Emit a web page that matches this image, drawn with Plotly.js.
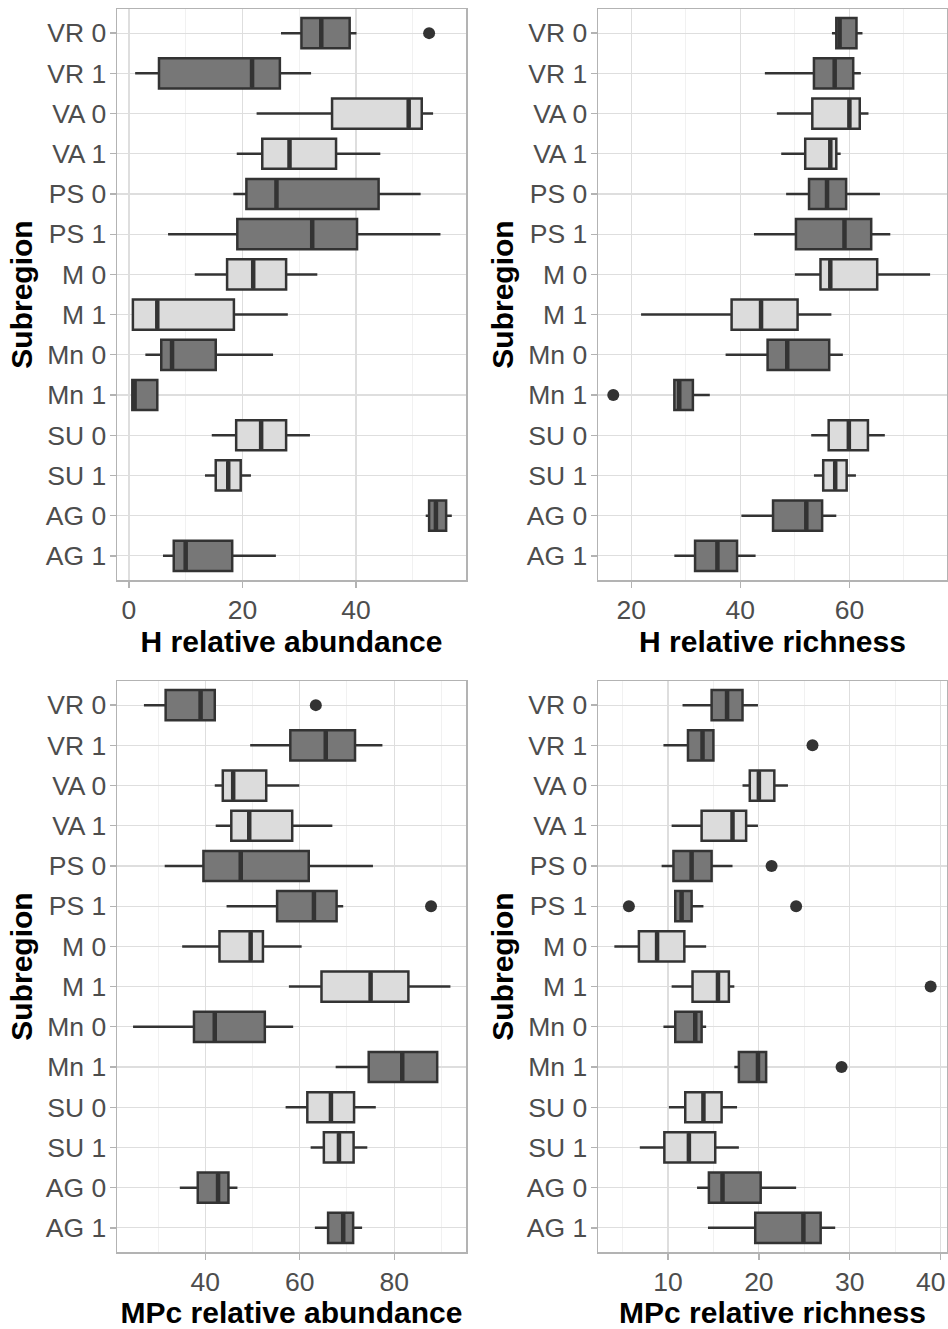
<!DOCTYPE html>
<html><head><meta charset="utf-8">
<script src="https://cdn.plot.ly/plotly-3.0.1.min.js"></script>
<style>html,body{margin:0;padding:0;background:#fff}#chart{width:948px;height:1329px}</style>
</head><body><div id="chart"></div>
<script>
const categories = ["VR 0","VR 1","VA 0","VA 1","PS 0","PS 1","M 0","M 1","Mn 0","Mn 1","SU 0","SU 1","AG 0","AG 1"];
const shade = ["dark","dark","light","light","dark","dark","light","light","dark","dark","light","light","dark","dark"];

// H relative abundance
const haLow  = [26.8, 1.1, 22.5, 19.0, 18.4, 6.9, 11.6, 0.7, 2.9, 0.6, 14.6, 13.4, 52.3, 6.0];
const haQ1   = [30.4, 5.3, 35.8, 23.5, 20.7, 19.1, 17.3, 0.7, 5.7, 0.6, 18.9, 15.3, 52.9, 7.9];
const haMed  = [33.9, 21.7, 49.3, 28.3, 26.0, 32.3, 21.9, 5.0, 7.6, 1.0, 23.3, 17.5, 54.1, 10.0];
const haQ3   = [38.9, 26.6, 51.6, 36.5, 44.0, 40.2, 27.7, 18.5, 15.3, 5.0, 27.7, 19.7, 55.9, 18.2];
const haHigh = [40.1, 32.1, 53.6, 44.3, 51.4, 54.9, 33.2, 28.0, 25.4, 5.0, 31.9, 21.5, 56.9, 25.9];
const haOutCat = ["VR 0"];
const haOutVal = [52.9];

// H relative richness
const hrLow  = [56.8, 44.5, 46.7, 47.5, 48.4, 42.5, 50.0, 21.8, 37.3, 27.9, 53.0, 53.5, 40.2, 27.9];
const hrQ1   = [57.6, 53.5, 53.2, 51.9, 52.6, 50.2, 54.7, 38.4, 45.0, 27.9, 56.2, 55.2, 46.0, 31.7];
const hrMed  = [58.2, 57.3, 60.0, 56.5, 55.9, 59.1, 56.5, 43.8, 48.6, 28.8, 59.9, 57.4, 52.1, 35.8];
const hrQ3   = [61.3, 60.7, 61.9, 57.6, 59.4, 64.0, 65.1, 50.5, 56.3, 31.3, 63.4, 59.5, 55.0, 39.4];
const hrHigh = [62.4, 62.1, 63.5, 58.4, 65.6, 67.5, 74.8, 56.7, 58.8, 34.4, 66.5, 61.2, 57.6, 42.8];
const hrOutCat = ["Mn 1"];
const hrOutVal = [16.7];

// MPc relative abundance
const maLow  = [27.0, 49.5, 42.0, 42.2, 31.4, 44.5, 35.1, 57.7, 24.7, 67.6, 57.0, 62.3, 34.6, 63.2];
const maQ1   = [31.6, 58.0, 43.7, 45.5, 39.6, 55.2, 43.0, 64.6, 37.6, 74.6, 61.6, 65.1, 38.4, 66.0];
const maMed  = [39.0, 65.5, 45.9, 49.3, 47.5, 63.0, 49.6, 75.0, 42.0, 81.7, 66.6, 68.3, 42.7, 69.2];
const maQ3   = [42.0, 71.7, 52.9, 58.4, 61.9, 67.8, 52.2, 83.0, 52.6, 89.1, 71.5, 71.4, 44.9, 71.3];
const maHigh = [42.0, 77.5, 59.9, 66.9, 75.5, 69.2, 60.4, 91.9, 58.6, 89.1, 76.1, 74.3, 46.8, 73.2];
const maOutCat = ["VR 0", "PS 1"];
const maOutVal = [63.4, 87.8];

// MPc relative richness
const mrLow  = [11.6, 9.5, 18.2, 10.4, 9.3, 10.8, 4.1, 10.4, 9.5, 17.3, 10.1, 6.9, 13.2, 14.4];
const mrQ1   = [14.8, 12.2, 19.0, 13.7, 10.6, 10.8, 6.8, 12.7, 10.8, 17.8, 11.9, 9.6, 14.5, 19.6];
const mrMed  = [16.5, 13.8, 20.0, 17.1, 12.6, 11.5, 8.8, 15.5, 13.0, 19.9, 13.9, 12.3, 16.0, 24.9];
const mrQ3   = [18.2, 15.0, 21.7, 18.6, 14.8, 12.6, 11.8, 16.7, 13.7, 20.8, 15.9, 15.2, 20.2, 26.8];
const mrHigh = [19.9, 15.0, 23.2, 19.9, 17.1, 13.9, 14.2, 17.3, 14.2, 20.8, 17.6, 17.8, 24.1, 28.4];
const mrOutCat = ["VR 1", "PS 0", "PS 1", "PS 1", "M 1", "Mn 1"];
const mrOutVal = [25.9, 21.4, 5.7, 24.1, 38.9, 29.1];

const panelTitles = ["H relative abundance", "H relative richness", "MPc relative abundance", "MPc relative richness"];
const yTitle = "Subregion";
const xTickVals = [[0, 20, 40], [20, 40, 60], [40, 60, 80], [10, 20, 30, 40]];

const panels = [
  {low: haLow, q1: haQ1, med: haMed, q3: haQ3, high: haHigh, outCat: haOutCat, outVal: haOutVal},
  {low: hrLow, q1: hrQ1, med: hrMed, q3: hrQ3, high: hrHigh, outCat: hrOutCat, outVal: hrOutVal},
  {low: maLow, q1: maQ1, med: maMed, q3: maQ3, high: maHigh, outCat: maOutCat, outVal: maOutVal},
  {low: mrLow, q1: mrQ1, med: mrMed, q3: mrQ3, high: mrHigh, outCat: mrOutCat, outVal: mrOutVal}
];

// axis / layout styling (not data)
const W = 948, H = 1329;
const axesCfg = [
  {x0: 117, x1: 466, y0: 9,   y1: 580,  range: [-2.1, 59.4], minor: 10},
  {x0: 598, x1: 947, y0: 9,   y1: 580,  range: [13.9, 77.9], minor: 10},
  {x0: 117, x1: 466, y0: 681, y1: 1252, range: [21.3, 95.2], minor: 10},
  {x0: 598, x1: 947, y0: 681, y1: 1252, range: [2.3, 40.7],  minor: 5}
];
const fillDark = "#777777", fillLight = "#dcdcdc", edge = "#333333";
const BOXW = 0.75;
const fontFam = "Liberation Sans, Arial, Helvetica, sans-serif";
const TICK_SIZE = 26.5, TITLE_SIZE = 30;
const tickFont = {size: TICK_SIZE, color: "#4d4d4d", family: fontFam};

const pos = categories.map((c, i) => i);
const traces = [];
const layout = {
  width: W, height: H,
  margin: {l: 0, r: 0, t: 0, b: 0},
  paper_bgcolor: "#ffffff", plot_bgcolor: "#ffffff",
  showlegend: false,
  font: {family: fontFam},
  hovermode: false
};

panels.forEach((p, k) => {
  const n = k + 1;
  const xa = "x" + (n === 1 ? "" : n), ya = "y" + (n === 1 ? "" : n);
  ["dark", "light"].forEach(s => {
    const idx = pos.filter(i => shade[i] === s);
    traces.push({
      type: "box", orientation: "h", xaxis: xa, yaxis: ya,
      y: idx.map(i => pos[i]),
      q1: idx.map(i => p.q1[i]), median: idx.map(i => p.med[i]), q3: idx.map(i => p.q3[i]),
      lowerfence: idx.map(i => p.low[i]), upperfence: idx.map(i => p.high[i]),
      width: BOXW, whiskerwidth: 0, boxpoints: false,
      fillcolor: s === "dark" ? fillDark : fillLight,
      line: {color: edge, width: 2.5},
      hoverinfo: "skip", showlegend: false
    });
  });
  // thick median bars (ggplot style), from the median arrays
  const mx = [], my = [];
  pos.forEach(i => { mx.push(p.med[i], p.med[i], null); my.push(i - BOXW / 2 + 0.02, i + BOXW / 2 - 0.02, null); });
  traces.push({type: "scatter", mode: "lines", xaxis: xa, yaxis: ya, x: mx, y: my,
    line: {color: edge, width: 4.5}, hoverinfo: "skip", showlegend: false, connectgaps: false});
  // outliers
  traces.push({type: "scatter", mode: "markers", xaxis: xa, yaxis: ya,
    x: p.outVal, y: p.outCat.map(c => categories.indexOf(c)),
    marker: {color: edge, size: 12}, hoverinfo: "skip", showlegend: false});

  const c = axesCfg[k];
  const lastPanel = k === 3;
  const vals = xTickVals[k];
  layout["xaxis" + (n === 1 ? "" : n)] = {
    domain: [c.x0 / W, c.x1 / W], anchor: ya, range: c.range,
    tickmode: "array", tickvals: vals,
    // last label of the right-hand panel is drawn by an overlay axis, nudged inside the figure
    ticktext: vals.map((v, j) => (lastPanel && j === vals.length - 1) ? "" : String(v)),
    ticks: "outside", ticklen: 6, tickwidth: 1.3, tickcolor: "#b3b3b3",
    tickfont: tickFont,
    showgrid: true, gridcolor: "#dedede", gridwidth: 1.2,
    minor: {dtick: c.minor, tick0: 0, showgrid: true, gridcolor: "#eeeeee", gridwidth: 0.8, ticks: ""},
    showline: true, mirror: true, linecolor: "#b3b3b3", linewidth: 1.5,
    zeroline: false, fixedrange: true,
    title: {text: panelTitles[k], standoff: 6, font: {size: TITLE_SIZE, color: "#000000", weight: 700, family: fontFam}}
  };
  layout["yaxis" + (n === 1 ? "" : n)] = {
    domain: [1 - c.y1 / H, 1 - c.y0 / H], anchor: xa, range: [categories.length - 0.4, -0.6],
    tickmode: "array", tickvals: pos, ticktext: categories,
    ticks: "outside", ticklen: 6, tickwidth: 1.3, tickcolor: "#b3b3b3",
    ticklabelstandoff: -2,
    tickfont: tickFont,
    showgrid: true, gridcolor: "#dedede", gridwidth: 1.2,
    showline: true, mirror: true, linecolor: "#b3b3b3", linewidth: 1.5,
    zeroline: false, fixedrange: true,
    title: {text: yTitle, standoff: 4, font: {size: TITLE_SIZE, color: "#000000", weight: 700, family: fontFam}}
  };
});

// overlay axis carrying only the edge label of the bottom-right panel
const lastVals = xTickVals[3];
const edgeVal = lastVals[lastVals.length - 1];
traces.push({type: "scatter", mode: "markers", x: [], y: [], xaxis: "x5", yaxis: "y4",
  hoverinfo: "skip", showlegend: false});
layout.xaxis5 = {
  overlaying: "x4", anchor: "y4", side: "bottom", range: axesCfg[3].range,
  tickmode: "array", tickvals: [edgeVal], ticktext: [String(edgeVal)],
  ticks: "outside", ticklen: 6, tickwidth: 0, tickcolor: "rgba(0,0,0,0)",
  ticklabelshift: -10, ticklabeloverflow: "allow",
  tickfont: tickFont, showgrid: false, showline: false, zeroline: false, fixedrange: true
};

Plotly.newPlot("chart", traces, layout, {displayModeBar: false, staticPlot: true});
</script>
</body></html>
